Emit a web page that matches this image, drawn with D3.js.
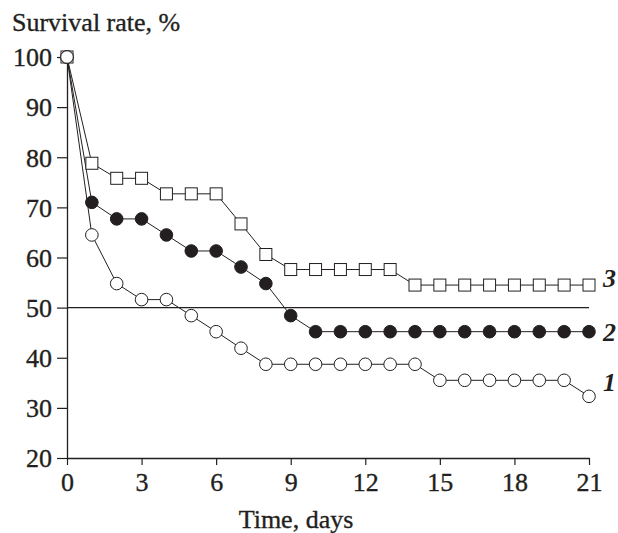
<!DOCTYPE html>
<html>
<head>
<meta charset="utf-8">
<script src="https://cdn.jsdelivr.net/npm/d3@7"></script>
<style>
  body { margin: 0; background: #fff; }
  svg text {
    font-family: "Liberation Serif", "Times New Roman", serif;
    fill: #231f20;
    stroke: #231f20;
    stroke-width: 0.35px;
  }
</style>
</head>
<body>
<div id="chart"></div>
<script>
const days = d3.range(0, 22);
// survival, % (group 1 = open circles, 2 = filled circles, 3 = squares)
const series1 = [100, 64.5, 54.8, 51.6, 51.6, 48.4, 45.2, 41.9, 38.7, 38.7, 38.7, 38.7, 38.7, 38.7, 38.7, 35.5, 35.5, 35.5, 35.5, 35.5, 35.5, 32.3];
const series2 = [100, 71.0, 67.7, 67.7, 64.5, 61.3, 61.3, 58.1, 54.8, 48.4, 45.2, 45.2, 45.2, 45.2, 45.2, 45.2, 45.2, 45.2, 45.2, 45.2, 45.2, 45.2];
const series3 = [100, 78.8, 75.8, 75.8, 72.7, 72.7, 72.7, 66.7, 60.6, 57.6, 57.6, 57.6, 57.6, 57.6, 54.5, 54.5, 54.5, 54.5, 54.5, 54.5, 54.5, 54.5];
const xTicks = [0, 3, 6, 9, 12, 15, 18, 21];
const yTicks = [20, 30, 40, 50, 60, 70, 80, 90, 100];
const seriesNames = ['1', '2', '3'];
const reference = 50;

const width = 618;
const height = 533;
const margin = { top: 57, right: 29, bottom: 75, left: 67 };
const ink = '#231f20';

const svg = d3.select('#chart')
  .append('svg')
  .attr('width', width)
  .attr('height', height);

const x = d3.scaleLinear()
  .domain([0, 21])
  .range([margin.left, width - margin.right]);

const y = d3.scaleLinear()
  .domain([20, 100])
  .range([height - margin.bottom, margin.top]);

// axes
svg.append('g')
  .attr('transform', `translate(0,${y(20)})`)
  .call(d3.axisBottom(x).tickValues(xTicks).tickSize(7).tickPadding(6).tickSizeOuter(0))
  .call(g => g.select('.domain').attr('stroke', ink).attr('stroke-width', 1.3))
  .call(g => g.selectAll('.tick line').attr('stroke', ink).attr('stroke-width', 1.2))
  .call(g => g.selectAll('.tick text').attr('font-size', 26).attr('dy', '0.75em'));

svg.append('g')
  .attr('transform', `translate(${x(0)},0)`)
  .call(d3.axisLeft(y).tickValues(yTicks).tickSize(10).tickPadding(5).tickSizeOuter(0))
  .call(g => g.select('.domain').attr('stroke', ink).attr('stroke-width', 1.3))
  .call(g => g.selectAll('.tick line').attr('stroke', ink).attr('stroke-width', 1.2))
  .call(g => g.selectAll('.tick text').attr('font-size', 26).attr('dy', '0.34em'));

// 50% line
svg.append('line')
  .attr('x1', x(0)).attr('x2', x(21))
  .attr('y1', y(reference)).attr('y2', y(reference))
  .attr('stroke', ink).attr('stroke-width', 1.1);

const line = d3.line()
  .x((d, i) => x(days[i]))
  .y(d => y(d));

[series1, series2, series3].forEach(s => {
  svg.append('path')
    .datum(s)
    .attr('fill', 'none')
    .attr('stroke', ink)
    .attr('stroke-width', 1)
    .attr('d', line);
});

// markers
svg.append('g').selectAll('rect')
  .data(series3)
  .join('rect')
    .attr('x', (d, i) => x(days[i]) - 6)
    .attr('y', d => y(d) - 6)
    .attr('width', 12)
    .attr('height', 12)
    .attr('fill', '#fff')
    .attr('stroke', ink)
    .attr('stroke-width', 1);

svg.append('g').selectAll('circle')
  .data(series2)
  .join('circle')
    .attr('cx', (d, i) => x(days[i]))
    .attr('cy', d => y(d))
    .attr('r', 6.3)
    .attr('fill', ink)
    .attr('stroke', ink);

svg.append('g').selectAll('circle')
  .data(series1)
  .join('circle')
    .attr('cx', (d, i) => x(days[i]))
    .attr('cy', d => y(d))
    .attr('r', 6.3)
    .attr('fill', '#fff')
    .attr('stroke', ink)
    .attr('stroke-width', 1);

// series labels at the right end
const labelY = [series1[21] + 2.8, series2[21], series3[21] + 1.3];
svg.append('g').selectAll('text')
  .data(seriesNames)
  .join('text')
    .attr('x', x(21) + 14)
    .attr('y', (d, i) => y(labelY[i]))
    .attr('dy', '0.34em')
    .attr('font-size', 26)
    .attr('font-style', 'italic')
    .attr('font-weight', 'bold')
    .style('stroke-width', 0)
    .text(d => d);

// titles
svg.append('text')
  .attr('x', 12)
  .attr('y', 31)
  .attr('font-size', 26)
  .text('Survival rate, %');

svg.append('text')
  .attr('x', 296)
  .attr('y', 528)
  .attr('text-anchor', 'middle')
  .attr('font-size', 26)
  .text('Time, days');
</script>
</body>
</html>
